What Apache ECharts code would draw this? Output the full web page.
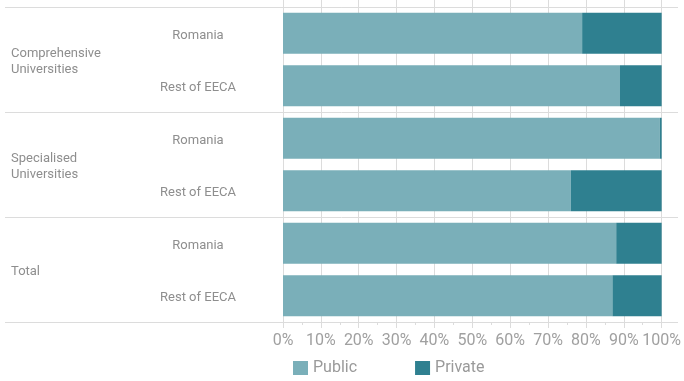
<!DOCTYPE html>
<html>
<head>
<meta charset="utf-8">
<script src="https://cdn.jsdelivr.net/npm/echarts@6/dist/echarts.min.js"></script>
<style>
  html, body { margin: 0; padding: 0; background: #fff; }
  #chart { width: 684px; height: 381px; }
</style>
</head>
<body>
<div id="chart"></div>
<script>
// Institution groups and the two regions compared inside each group
const groups = ['Comprehensive\nUniversities', 'Specialised\nUniversities', 'Total'];
const regions = ['Romania', 'Rest of EECA', 'Romania', 'Rest of EECA', 'Romania', 'Rest of EECA'];

// Share of institutions (%) by ownership, one value per region row
const publicShare  = [79, 89, 99.5, 76, 88, 87];
const privateShare = [21, 11, 0.5, 24, 12, 13];

const xTicks = { min: 0, max: 100, interval: 10 };

const gridColor = '#dcdcdc';
const labelColor = '#8e8e8e';
const fontFamily = 'Roboto, "Noto Sans", sans-serif';

// wrap every line of a label in a rich token so it sits slightly lower
function lowered(text) {
  return text.split('\n').map(function (line) { return '{t|' + line + '}'; }).join('\n');
}
const loweredRich = {
  t: { padding: [4, 0, 0, 0], fontSize: 13, lineHeight: 16, color: labelColor, fontFamily: fontFamily }
};

const chart = echarts.init(document.getElementById('chart'), null, { renderer: 'canvas' });

chart.setOption({
  animation: false,
  textStyle: { fontFamily: fontFamily },
  color: ['#7aafb9', '#2f8090'],
  legend: {
    left: 288,
    top: 355,
    itemWidth: 15,
    itemHeight: 14,
    itemGap: 58,
    icon: 'rect',
    textStyle: { color: '#9a9a9a', fontSize: 16, fontFamily: fontFamily },
    data: ['Public', 'Private']
  },
  grid: [
    { left: 283, right: 20, top: 7, bottom: 59 },
    { left: 5, right: 6, top: 7, bottom: 59 }
  ],
  xAxis: [
    {
      gridIndex: 0,
      type: 'value',
      min: xTicks.min,
      max: xTicks.max,
      interval: xTicks.interval,
      position: 'bottom',
      axisLine: { show: false },
      axisTick: { show: true, length: 6, lineStyle: { color: gridColor } },
      minorTick: { show: true, splitNumber: 2, length: 3, lineStyle: { color: gridColor } },
      splitLine: { show: true, lineStyle: { color: gridColor, width: 1 } },
      axisLabel: {
        formatter: '{value}%',
        fontSize: 16,
        color: '#a0a0a0',
        margin: 11,
        fontFamily: fontFamily
      }
    },
    {
      gridIndex: 0,
      type: 'value',
      min: xTicks.min,
      max: xTicks.max,
      interval: xTicks.interval,
      position: 'top',
      axisLine: { show: false },
      axisTick: { show: true, length: 7, lineStyle: { color: gridColor } },
      axisLabel: { show: false },
      splitLine: { show: false }
    },
    {
      gridIndex: 1,
      type: 'value',
      min: 0,
      max: 100,
      show: false
    }
  ],
  yAxis: [
    {
      gridIndex: 0,
      type: 'category',
      inverse: true,
      data: regions,
      axisLine: { show: false },
      axisTick: { show: false },
      splitLine: {
        show: true,
        interval: function (index) { return index === 5; },
        lineStyle: { color: '#e4e4e4' }
      },
      axisLabel: {
        align: 'center',
        margin: 85,
        formatter: lowered,
        rich: loweredRich
      }
    },
    {
      gridIndex: 1,
      type: 'category',
      inverse: true,
      data: groups,
      axisLine: { show: false },
      axisTick: { show: false },
      splitLine: { show: true, lineStyle: { color: gridColor, width: 1 } },
      axisLabel: {
        inside: true,
        align: 'left',
        margin: 6,
        formatter: lowered,
        rich: loweredRich
      }
    }
  ],
  series: [
    {
      name: 'Public',
      type: 'bar',
      stack: 'share',
      xAxisIndex: 0,
      yAxisIndex: 0,
      barCategoryGap: '22%',
      data: publicShare
    },
    {
      name: 'Private',
      type: 'bar',
      stack: 'share',
      xAxisIndex: 0,
      yAxisIndex: 0,
      barCategoryGap: '22%',
      data: privateShare
    }
  ]
});
</script>
</body>
</html>
